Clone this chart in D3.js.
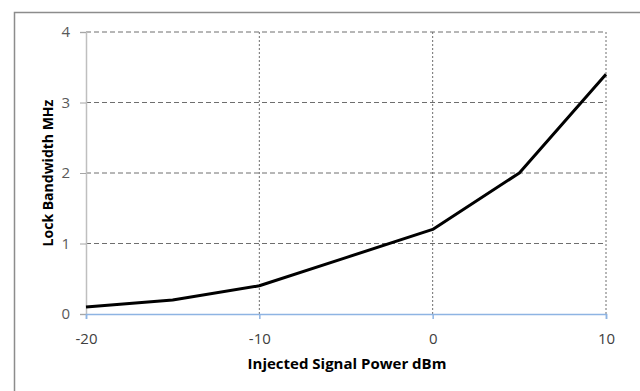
<!DOCTYPE html>
<html>
<head>
<meta charset="utf-8">
<script src="https://cdn.jsdelivr.net/npm/d3@7"></script>
<style>
  body { margin: 0; background: #fff; }
  svg { display: block; }
</style>
</head>
<body>
<div id="chart"></div>
<script>
// Data
var powerDbm = [-20, -15, -10, -5, 0, 5, 10];
var lockBandwidth = [0.1, 0.2, 0.4, 0.8, 1.2, 2.0, 3.4];
var xTicks = [-20, -10, 0, 10];
var yTicks = [0, 1, 2, 3, 4];

var svgWidth = 640;
var svgHeight = 391;
var fontFamily = "'Open Sans', sans-serif";

var margin = { top: 32, right: 34, bottom: 77, left: 86 };
var width = svgWidth - margin.left - margin.right;
var height = svgHeight - margin.top - margin.bottom;

var svg = d3.select("#chart")
  .append("svg")
  .attr("width", svgWidth)
  .attr("height", svgHeight);

// outer frame (cut off on the right and bottom)
svg.append("rect")
  .attr("x", 14.5)
  .attr("y", 12.5)
  .attr("width", 700)
  .attr("height", 500)
  .attr("fill", "none")
  .attr("stroke", "#8c8c8c")
  .attr("stroke-width", 1.5);

var chartGroup = svg.append("g")
  .attr("transform", `translate(${margin.left}, ${margin.top})`);

var xScale = d3.scaleLinear().domain([-20, 10]).range([0, width]);
var yScale = d3.scaleLinear().domain([0, 4]).range([height, 0]);

// horizontal dashed gridlines
chartGroup.selectAll(".hgrid")
  .data(yTicks.filter(d => d > 0))
  .enter()
  .append("line")
  .attr("x1", 0)
  .attr("x2", width)
  .attr("y1", d => yScale(d))
  .attr("y2", d => yScale(d))
  .attr("stroke", "#6e6e6e")
  .attr("stroke-width", 1)
  .attr("stroke-dasharray", "5,3");

// vertical dotted gridlines
chartGroup.selectAll(".vgrid")
  .data(xTicks.filter(d => d > -20))
  .enter()
  .append("line")
  .attr("x1", d => xScale(d))
  .attr("x2", d => xScale(d))
  .attr("y1", 0)
  .attr("y2", height)
  .attr("stroke", "#6e6e6e")
  .attr("stroke-width", 1)
  .attr("stroke-dasharray", "2,2");

// y axis
var leftAxis = d3.axisLeft(yScale)
  .tickValues(yTicks)
  .tickSize(6)
  .tickPadding(10)
  .tickFormat(d => String(d));

var yAxisG = chartGroup.append("g").call(leftAxis)
  .attr("font-family", fontFamily)
  .attr("font-size", 15);
yAxisG.select(".domain").attr("stroke", "#bfbfbf").attr("stroke-width", 1.5);
yAxisG.selectAll(".tick line").attr("stroke", "#a6a6a6");
yAxisG.selectAll(".tick text").attr("fill", "#595959");

// x axis
var bottomAxis = d3.axisBottom(xScale)
  .tickValues(xTicks)
  .tickSize(5)
  .tickPadding(14)
  .tickFormat(d => String(d));

var xAxisG = chartGroup.append("g")
  .attr("transform", `translate(0, ${height})`)
  .call(bottomAxis)
  .attr("font-family", fontFamily)
  .attr("font-size", 15);
xAxisG.select(".domain").attr("stroke", "#8eb4e3").attr("stroke-width", 1.5);
xAxisG.selectAll(".tick line").attr("stroke", "#8eb4e3").attr("stroke-width", 1.5);
xAxisG.selectAll(".tick text").attr("fill", "#404040");

// data line
var line = d3.line()
  .x((d, i) => xScale(powerDbm[i]))
  .y(d => yScale(d));

chartGroup.append("path")
  .datum(lockBandwidth)
  .attr("d", line)
  .attr("fill", "none")
  .attr("stroke", "#000")
  .attr("stroke-width", 3)
  .attr("stroke-linejoin", "round");

// axis titles
chartGroup.append("text")
  .attr("x", 347 - margin.left)
  .attr("y", 369 - margin.top)
  .attr("text-anchor", "middle")
  .attr("font-family", fontFamily)
  .attr("font-size", "15px")
  .attr("font-weight", "bold")
  .attr("fill", "#000")
  .text("Injected Signal Power dBm");

chartGroup.append("text")
  .attr("transform", "rotate(-90)")
  .attr("x", -(height / 2))
  .attr("y", 53 - margin.left)
  .attr("text-anchor", "middle")
  .attr("font-family", fontFamily)
  .attr("font-size", "14px")
  .attr("font-weight", "bold")
  .attr("fill", "#000")
  .text("Lock Bandwidth MHz");
</script>
</body>
</html>
